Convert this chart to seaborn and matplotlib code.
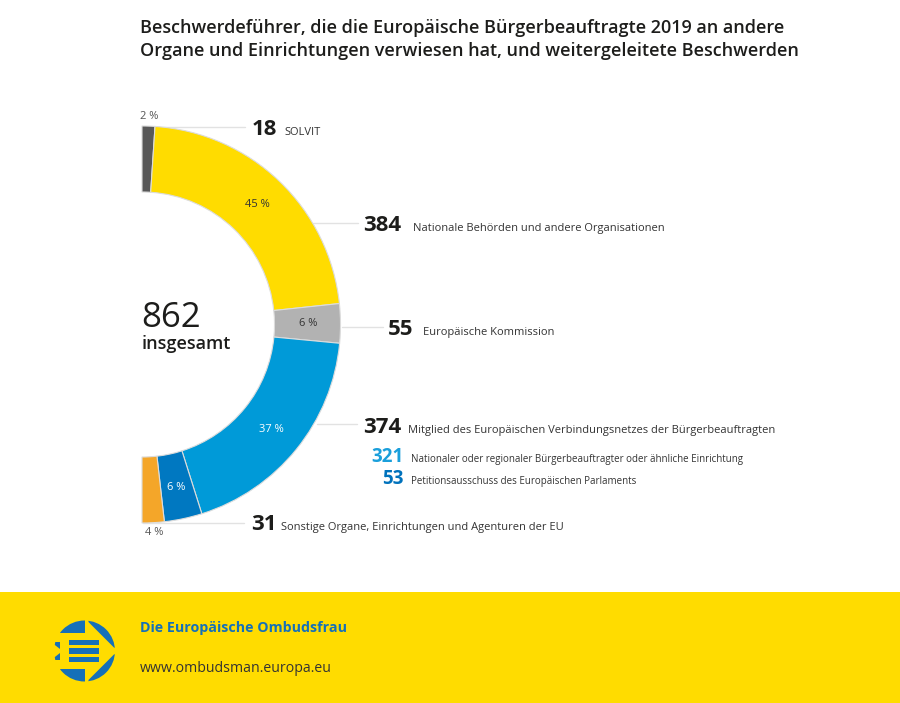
"""
Half-donut: complaints referred by the European Ombudsman in 2019.
"""

import matplotlib
matplotlib.use("Agg")
import matplotlib.pyplot as plt
import numpy as np
import seaborn as sns
from matplotlib.patches import Circle, Polygon, Rectangle

# data
categories = [
    "SOLVIT",
    "Nationale Behörden und andere Organisationen",
    "Europäische Kommission",
    "Nationaler oder regionaler Bürgerbeauftragter oder ähnliche Einrichtung",
    "Petitionsausschuss des Europäischen Parlaments",
    "Sonstige Organe, Einrichtungen und Agenturen der EU",
]
counts = [18, 384, 55, 321, 53, 31]
pct_labels = ["2 %", "45 %", "6 %", "37 %", "6 %", "4 %"]
network_label = "Mitglied des Europäischen Verbindungsnetzes der Bürgerbeauftragten"
network_count = 374
total = 862

colors = ["#585858", "#FFDC00", "#B2B2B2", "#009AD8", "#0078C1", "#F4A629"]
pct_colors = ["#555555", "#333333", "#333333", "white", "white", "#555555"]
YELLOW = "#FFDC00"
LOGO_BLUE = "#1570B8"
DARK = "#1d1d1b"

sns.set_theme(style="white")
plt.rcParams["font.family"] = ["Open Sans", "DejaVu Sans"]

W, H = 900, 703


def Y(py):
    return H - py


fig = plt.figure(figsize=(9, 7.03), dpi=100)
ax = fig.add_axes([0, 0, 1, 1])

cx, cy = 142, Y(324.5)
R, width = 198.5, 66
wedges, _ = ax.pie(
    counts + [sum(counts)],
    colors=colors + ["white"],
    startangle=90,
    counterclock=False,
    radius=R,
    center=(cx, cy),
    wedgeprops=dict(width=width, edgecolor="#dcdcdc", linewidth=0.8),
    frame=True,
)
wedges[-1].set_visible(False)
ax.set_xlim(0, W)
ax.set_ylim(0, H)
ax.set_aspect("equal")
ax.axis("off")

# percent labels from wedge angles
for i, w in enumerate(wedges[:-1]):
    mid = np.deg2rad((w.theta1 + w.theta2) / 2)
    r = R - width / 2 + 1 if i not in (0, 5) else R + 10
    ax.text(cx + r * np.cos(mid), cy + r * np.sin(mid), pct_labels[i],
            ha="center", va="center", fontsize=8, color=pct_colors[i])

# leader lines
lines = [((152, 127), (245, 127)), ((313, 223), (358, 223)),
         ((342, 327), (383, 327)), ((317, 424), (357, 424)),
         ((143, 523), (244, 523))]
for (x0, y0), (x1, y1) in lines:
    ax.plot([x0, x1], [Y(y0), Y(y1)], color="#e2e2e2", lw=1, zorder=0)

# number + description rows: (number, text, x_num, x_text, baseline)
rows = [
    (str(counts[0]), categories[0], 252, 284, 135),
    (str(counts[1]), categories[1], 363, 413, 231),
    (str(counts[2]), categories[2], 388, 423, 335),
    (str(network_count), network_label, 363, 408, 433),
    (str(counts[5]), categories[5], 251, 281, 530),
]
for num, desc, xn, xt, y in rows:
    ax.text(xn, Y(y), num, fontsize=16, fontweight="bold", color=DARK,
            ha="left", va="baseline")
    ax.text(xt, Y(y), desc, fontsize=8, color="#333333",
            ha="left", va="baseline")

sub_rows = [(str(counts[3]), categories[3], 462, "#1A9FDB"),
            (str(counts[4]), categories[4], 484, "#0072BC")]
for num, desc, y, col in sub_rows:
    ax.text(404, Y(y), num, fontsize=13.5, fontweight="bold", color=col,
            ha="right", va="baseline")
    ax.text(411, Y(y), desc, fontsize=7, color="#333333",
            ha="left", va="baseline")

# total
ax.text(141, Y(327), str(total), fontsize=25, color=DARK, ha="left",
        va="baseline")
ax.text(142, Y(349), "insgesamt", fontsize=13, fontweight="semibold",
        color=DARK, ha="left", va="baseline")

# title
ax.text(140, Y(33), "Beschwerdeführer, die die Europäische Bürgerbeauftragte 2019 an andere",
        fontsize=13, fontweight="semibold", color=DARK, va="baseline")
ax.text(140, Y(56), "Organe und Einrichtungen verwiesen hat, und weitergeleitete Beschwerden",
        fontsize=13, fontweight="semibold", color=DARK, va="baseline")

# footer band
ax.add_patch(Rectangle((0, 0), W, Y(592), facecolor=YELLOW, edgecolor="none",
                       zorder=0))
ax.text(140, Y(632), "Die Europäische Ombudsfrau", fontsize=10.3,
        fontweight="bold", color=LOGO_BLUE, va="baseline")
ax.text(140, Y(672), "www.ombudsman.europa.eu", fontsize=10.2,
        color="#333333", va="baseline")

# logo
lx, ly, lr = 84.5, Y(651), 30.5
clip = Circle((lx, ly), lr, facecolor="none", edgecolor="none")
ax.add_patch(clip)


def piece(pts):
    p = Polygon([(lx + px * lr, ly + py * lr) for px, py in pts],
                closed=True, facecolor=LOGO_BLUE, edgecolor="none", zorder=3)
    ax.add_patch(p)
    p.set_clip_path(clip)


for s in (1, -1):
    piece([(-1.2, 0.6 * s), (0.0, 0.6 * s), (0.0, 1.2 * s), (-1.2, 1.2 * s)])
    piece([(0.13, 0.95 * s), (0.97, 0.11 * s), (1.3, 0.11 * s), (1.3, 1.3 * s),
           (0.13, 1.3 * s)])
    piece([(-1.1, 0.31 * s), (-0.8, 0.31 * s), (-0.8, 0.08 * s)])
for bc in (0.28, 0.0, -0.28):
    piece([(-0.5, bc - 0.085), (0.47, bc - 0.085), (0.47, bc + 0.085),
           (-0.5, bc + 0.085)])

fig.savefig("out.png", dpi=100)
